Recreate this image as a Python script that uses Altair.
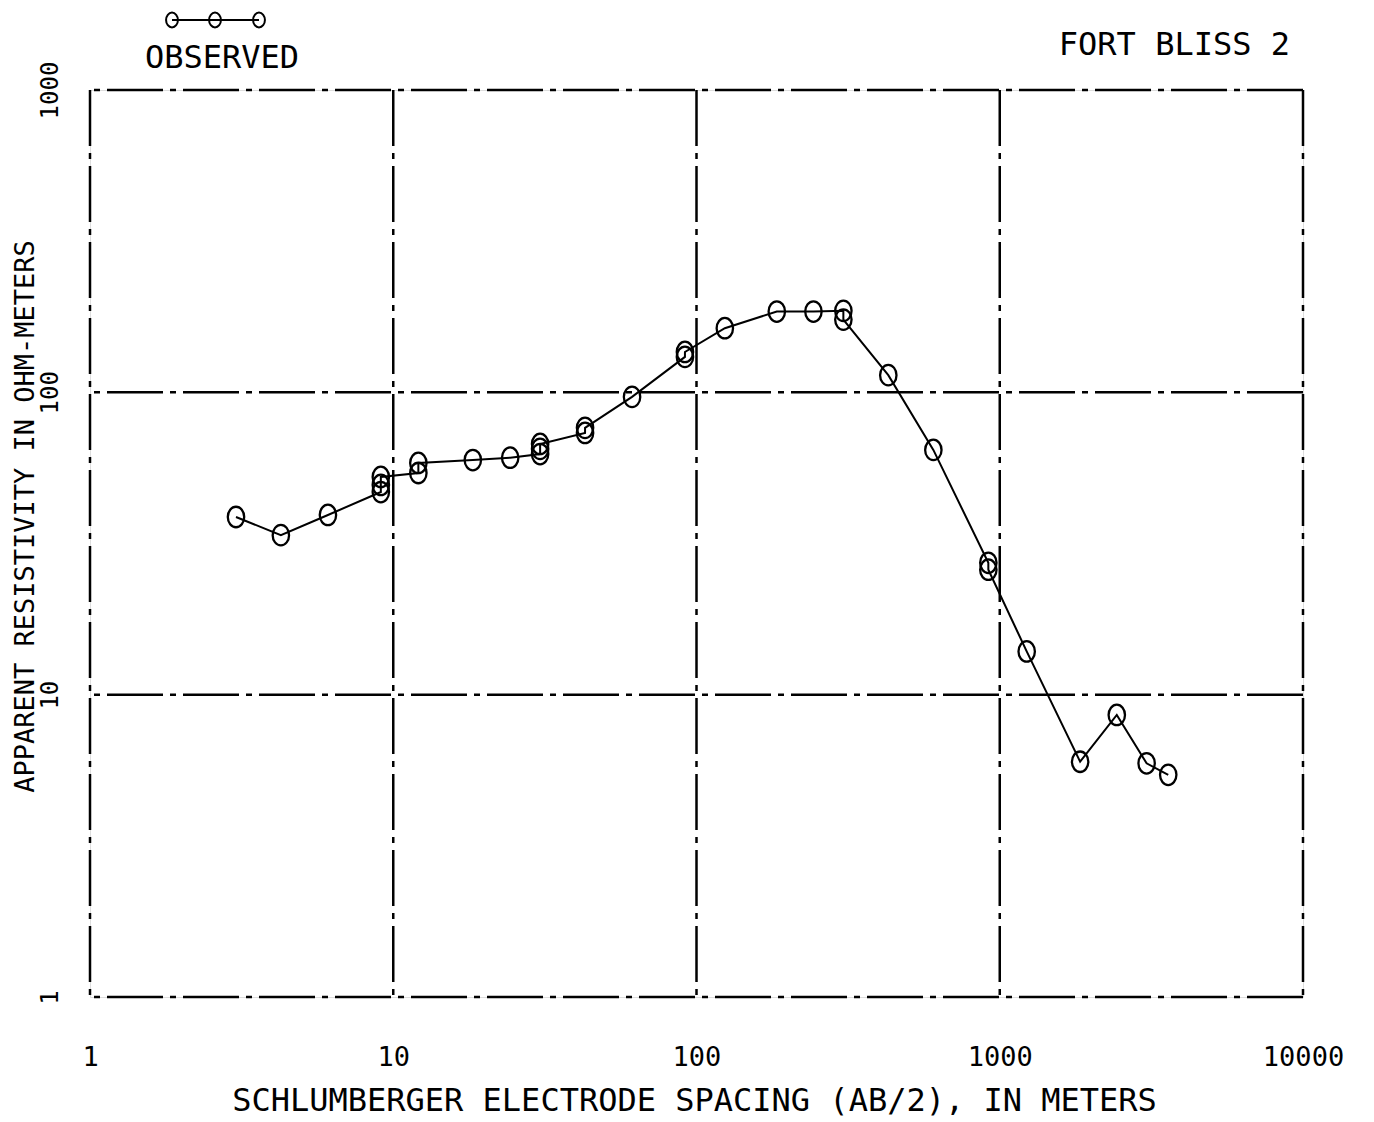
import altair as alt
import pandas as pd

# Observed Schlumberger sounding data (AB/2 in m, apparent resistivity in ohm-m)
spacing = [3.03, 4.26, 6.09, 9.1, 9.1, 9.1, 12.1, 12.1, 18.3, 24.3, 30.5, 30.5, 30.5,
           42.9, 42.9, 61.3, 91.6, 91.6, 124, 184, 243, 305, 305, 429, 604,
           917, 917, 1227, 1841, 2432, 3050, 3594]
resistivity = [38.7, 33.7, 39.3, 46.8, 49.4, 52.5, 54.1, 58.4, 59.7, 60.8, 62.5, 65.0, 67.5,
               73.4, 76.3, 96.6, 131, 136, 163, 185, 185, 186, 174, 114, 64.5,
               27.3, 25.9, 13.9, 6.0, 8.57, 5.93, 5.43]
x_ticks = [1, 10, 100, 1000, 10000]
y_ticks = [1, 10, 100, 1000]
grid_x = [1, 10, 100, 1000, 10000]
grid_y = [1, 10, 100, 1000]

df = pd.DataFrame({"AB2": spacing, "rho": resistivity, "order": list(range(len(spacing)))})

FONT = "DejaVu Sans Mono"
DASH = [56, 7, 6, 7]
ELLIPSE = "M -0.8 0 A 0.8 1 0 1 0 0.8 0 A 0.8 1 0 1 0 -0.8 0 Z"

W, H = 1213, 907

xscale = alt.Scale(type="log", domain=[1, 10000])
yscale = alt.Scale(type="log", domain=[1, 1000])

xaxis = alt.Axis(values=x_ticks, format="d", grid=False, ticks=False, tickSize=0, domain=False,
                 labelFont=FONT, labelFontSize=27, labelColor="black", labelPadding=47,
                 labelBaseline="top", labelAlign="center", labelFlush=False,
                 title="SCHLUMBERGER ELECTRODE SPACING (AB/2), IN METERS",
                 titleFont=FONT, titleFontSize=32, titleFontWeight="normal", titleColor="black",
                 titleX=604, titleY=103, titleAlign="center", titleBaseline="middle")
yaxis = alt.Axis(values=y_ticks, format="d", grid=False, ticks=False, tickSize=0, domain=False,
                 labelFont=FONT, labelFontSize=24, labelColor="black", labelPadding=28,
                 labelAngle=270, labelAlign="center", labelBaseline="bottom", labelFlush=False,
                 title="APPARENT RESISTIVITY IN OHM-METERS",
                 titleFont=FONT, titleFontSize=27, titleFontWeight="normal", titleColor="black",
                 titleX=-65, titleY=426, titleAngle=270, titleAlign="center", titleBaseline="middle")

base = alt.Chart(df)

line = base.mark_line(color="black", strokeWidth=2).encode(
    x=alt.X("AB2:Q", scale=xscale, axis=xaxis),
    y=alt.Y("rho:Q", scale=yscale, axis=yaxis),
    order="order:Q",
)
points = base.mark_point(shape=ELLIPSE, size=420, filled=False, color="black",
                         strokeWidth=2.3, opacity=1).encode(
    x=alt.X("AB2:Q", scale=xscale),
    y=alt.Y("rho:Q", scale=yscale),
)

vgrid = alt.Chart(pd.DataFrame({"g": grid_x})).mark_rule(
    color="black", strokeWidth=2.5, strokeDash=DASH).encode(
    x=alt.X("g:Q", scale=xscale))
hgrid = alt.Chart(pd.DataFrame({"g": grid_y})).mark_rule(
    color="black", strokeWidth=2.5, strokeDash=DASH).encode(
    y=alt.Y("g:Q", scale=yscale))

one = pd.DataFrame({"t": [""]})
title_txt = alt.Chart(one).mark_text(
    text="FORT BLISS 2", font=FONT, fontSize=32, align="right", baseline="middle", color="black"
).encode(x=alt.value(1200), y=alt.value(-45))
obs_txt = alt.Chart(one).mark_text(
    text="OBSERVED", font=FONT, fontSize=32, align="center", baseline="middle", color="black"
).encode(x=alt.value(132), y=alt.value(-32))
leg_line = alt.Chart(one).mark_rule(color="black", strokeWidth=2).encode(
    x=alt.value(82), x2=alt.value(169), y=alt.value(-70))
leg_pts = [
    alt.Chart(one).mark_point(shape=ELLIPSE, size=220, filled=False, color="black",
                              strokeWidth=2, opacity=1).encode(
        x=alt.value(px), y=alt.value(-70))
    for px in (82, 125, 169)
]

chart = alt.layer(vgrid, hgrid, line, points, title_txt, obs_txt, leg_line, *leg_pts).properties(
    width=W, height=H,
    padding={"left": 82, "top": 82, "right": 50, "bottom": 124},
    autosize=alt.AutoSizeParams(type="none"),
).configure_view(
    stroke="transparent", strokeWidth=0
).configure(background="white")

chart.save("out.html", embed_options={"renderer": "svg", "actions": False})
